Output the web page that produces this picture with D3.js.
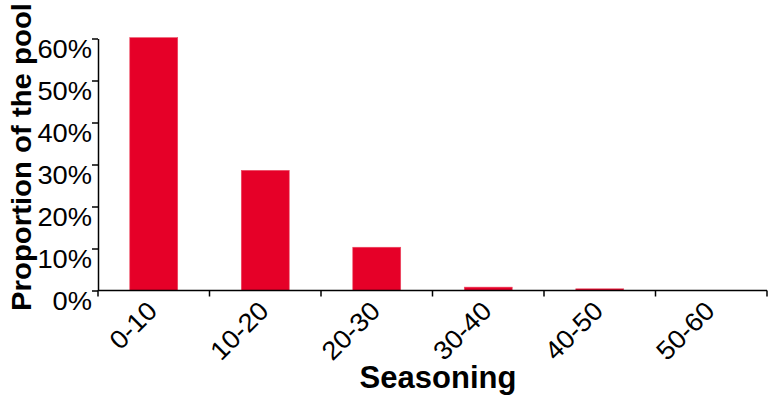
<!DOCTYPE html>
<html>
<head>
<meta charset="utf-8">
<script src="https://cdn.jsdelivr.net/npm/d3@7"></script>
<style>
  html, body { margin: 0; padding: 0; background: #fff; }
  svg { display: block; }
  text { font-family: "Liberation Sans", Arial, Helvetica, sans-serif; fill: #000; }
</style>
</head>
<body>
<svg id="chart" width="769" height="396"></svg>
<script>
// Seasoning buckets (months) and share of the pool in each
const categories = ["0-10", "10-20", "20-30", "30-40", "40-50", "50-60"];
const shares = [0.602, 0.286, 0.103, 0.008, 0.004, 0.0];
const yTicks = [0, 0.1, 0.2, 0.3, 0.4, 0.5, 0.6];

const svg = d3.select("#chart");
const plotLeft = 98, plotRight = 767, plotTop = 38.5, plotBottom = 290.5;

const x = d3.scaleBand()
  .domain(categories)
  .range([plotLeft, plotRight])
  .paddingInner(0.57)
  .paddingOuter(0.285);

const y = d3.scaleLinear().domain([0, 0.6]).range([plotBottom, plotTop]);

// bars
svg.append("g")
  .selectAll("rect")
  .data(categories.map((c, i) => ({ c, v: shares[i] })))
  .join("rect")
  .attr("x", d => x(d.c))
  .attr("width", x.bandwidth())
  .attr("y", d => y(d.v))
  .attr("height", d => plotBottom - y(d.v))
  .attr("fill", "#e60028")
  .attr("stroke", "#ec4a62")
  .attr("stroke-width", 0.6);

// y axis
const yAxis = svg.append("g")
  .attr("transform", `translate(${plotLeft},0)`)
  .call(d3.axisLeft(y).tickValues(yTicks).tickSize(6).tickSizeOuter(0)
    .tickFormat(d3.format(".0%")));
yAxis.select(".domain").attr("stroke", "#000").attr("stroke-width", 1.5);
yAxis.selectAll(".tick line").attr("stroke", "#000").attr("stroke-width", 1.5);
yAxis.selectAll(".tick text")
  .attr("x", 0).attr("dy", null).attr("y", 0)
  .attr("font-size", 26)
  .attr("text-anchor", "end")
  .attr("fill", "#000")
  .attr("font-family", "Liberation Sans, Arial, sans-serif")
  .attr("transform", "translate(-6,18.5) scale(1.05,1)");

// x axis: ticks at band boundaries
const bounds = categories.map(c => x(c) - x.step() * x.paddingInner() / 2);
bounds.push(plotRight);
const xg = svg.append("g");
xg.append("line")
  .attr("x1", plotLeft).attr("x2", plotRight)
  .attr("y1", plotBottom).attr("y2", plotBottom)
  .attr("stroke", "#000").attr("stroke-width", 1.5);
xg.selectAll("line.tick")
  .data(bounds)
  .join("line")
  .attr("class", "tick")
  .attr("x1", d => d).attr("x2", d => d)
  .attr("y1", plotBottom).attr("y2", plotBottom + 6)
  .attr("stroke", "#000").attr("stroke-width", 1.5);

xg.selectAll("text")
  .data(categories)
  .join("text")
  .attr("transform", d => `translate(${x(d) + x.bandwidth() / 2 + 5},${plotBottom + 22}) rotate(-45) scale(1.05,1)`)
  .attr("text-anchor", "end")
  .attr("font-size", 26)
  .text(d => d);

// axis titles
svg.append("text")
  .attr("x", 438).attr("y", 388)
  .attr("text-anchor", "middle")
  .attr("font-size", 31)
  .attr("font-weight", "bold")
  .text("Seasoning");

svg.append("text")
  .attr("transform", "translate(31,157) rotate(-90)")
  .attr("text-anchor", "middle")
  .attr("font-size", 28)
  .attr("font-weight", "bold")
  .attr("textLength", 308)
  .attr("lengthAdjust", "spacingAndGlyphs")
  .text("Proportion of the pool");
</script>
</body>
</html>
